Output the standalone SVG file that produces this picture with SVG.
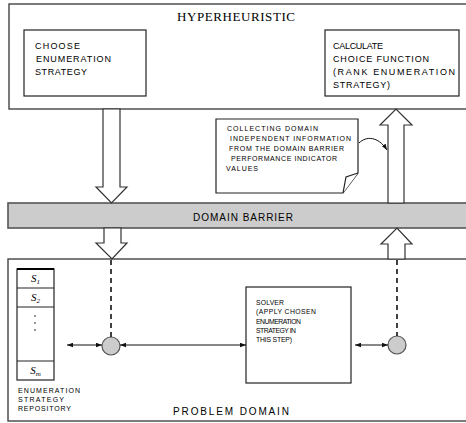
<svg xmlns="http://www.w3.org/2000/svg" width="466" height="423" viewBox="0 0 466 423">
  <style>
    .frame { fill: #ffffff; stroke: #444444; stroke-width: 1.4; }
    .box { fill: #ffffff; stroke: #222222; stroke-width: 1.2; }
    .barrier { fill: #cccccc; stroke: #555555; stroke-width: 1.6; }
    .block { fill: #ffffff; stroke: #333333; stroke-width: 1.2; stroke-linejoin: miter; }
    .dash { fill: none; stroke: #111111; stroke-width: 1.6; stroke-dasharray: 5 4; }
    .link { fill: none; stroke: #111111; stroke-width: 1; marker-start: url(#tip); marker-end: url(#tip); }
    .hub { fill: #cccccc; stroke: #555555; stroke-width: 1.2; }
    .curl { fill: none; stroke: #111111; stroke-width: 1; marker-end: url(#tip); }
    text { font-family: "Liberation Sans", Arial, sans-serif; fill: #000000; }
    .title { font-family: "Liberation Serif", "Times New Roman", serif; font-size: 13px; }
    .lbl { font-size: 9px; }
    .small { font-size: 7px; }
    .tiny { font-size: 6.8px; }
    .big { font-size: 10px; }
    .sym { font-family: "Liberation Serif", "Times New Roman", serif; font-style: italic; font-size: 11px; text-anchor: middle; }
  </style>
  <defs>
    <marker id="tip" viewBox="0 0 8 6" refX="8" refY="3" markerWidth="6" markerHeight="5" orient="auto-start-reverse" markerUnits="userSpaceOnUse">
      <path d="M0,0 L8,3 L0,6 Z" fill="#111111"/>
    </marker>
  </defs>

  <!-- hyperheuristic layer -->
  <g id="hyperheuristic">
    <rect class="frame" x="9" y="4" width="470" height="105"/>
    <text class="title" x="177" y="21" textLength="118">HYPERHEURISTIC</text>
  </g>
  <g id="choose">
    <rect class="box" x="24" y="30" width="122" height="66"/>
    <text class="lbl" x="35" y="49" textLength="45">CHOOSE</text>
    <text class="lbl" x="36" y="62" textLength="75">ENUMERATION</text>
    <text class="lbl" x="35" y="75" textLength="52">STRATEGY</text>
  </g>
  <g id="calculate">
    <rect class="box" x="325" y="30" width="134" height="66"/>
    <text class="lbl" x="333" y="49" textLength="50">CALCULATE</text>
    <text class="lbl" x="333" y="62" textLength="96">CHOICE FUNCTION</text>
    <text class="lbl" x="333" y="75" textLength="122">(RANK ENUMERATION</text>
    <text class="lbl" x="333" y="88" textLength="57">STRATEGY)</text>
  </g>

  <!-- domain barrier -->
  <g id="barrier">
    <rect class="barrier" x="8" y="203" width="472" height="25"/>
    <text class="big" x="193" y="221" textLength="100">DOMAIN BARRIER</text>
  </g>

  <!-- problem domain layer -->
  <g id="problem-domain">
    <rect class="frame" x="8" y="259" width="472" height="162"/>
    <text class="big" x="173" y="415" textLength="116">PROBLEM DOMAIN</text>
  </g>

  <g id="repository">
    <rect class="box" x="17" y="269" width="37" height="111"/>
    <line x1="17" y1="269" x2="54" y2="269" stroke="#000000" stroke-width="2"/>
    <line x1="17" y1="288" x2="54" y2="288" stroke="#222222" stroke-width="1.2"/>
    <line x1="17" y1="307" x2="54" y2="307" stroke="#222222" stroke-width="1.2"/>
    <line x1="17" y1="361" x2="54" y2="361" stroke="#222222" stroke-width="1.2"/>
    <text class="sym" x="35.5" y="282">S<tspan font-size="7" dy="1.5">1</tspan></text>
    <text class="sym" x="35.5" y="301">S<tspan font-size="7" dy="1.5">2</tspan></text>
    <circle cx="35" cy="316" r="0.8" fill="#111111"/>
    <circle cx="35" cy="323" r="0.8" fill="#111111"/>
    <circle cx="35" cy="330" r="0.8" fill="#111111"/>
    <text class="sym" x="35.5" y="374">S<tspan font-size="7" dy="1.5">m</tspan></text>
    <text class="small" x="18" y="393" textLength="62">ENUMERATION</text>
    <text class="small" x="18" y="402" textLength="46">STRATEGY</text>
    <text class="small" x="18" y="411" textLength="53">REPOSITORY</text>
  </g>

  <g id="solver">
    <rect class="box" x="246" y="287" width="105" height="96"/>
    <text class="tiny" x="256" y="305" textLength="28">SOLVER</text>
    <text class="tiny" x="256" y="314" textLength="60">(APPLY CHOSEN</text>
    <text class="tiny" x="256" y="324" textLength="45">ENUMERATION</text>
    <text class="tiny" x="256" y="333" textLength="40">STRATEGY IN</text>
    <text class="tiny" x="256" y="342" textLength="36">THIS STEP)</text>
  </g>

  <g id="note">
    <path class="box" d="M216,119 H358 V173 L343,193 H216 Z"/>
    <path class="box" d="M343,193 L346,177 L358,173" fill="none"/>
    <text class="small" x="227" y="131" textLength="91">COLLECTING DOMAIN</text>
    <text class="small" x="230" y="141" textLength="121">INDEPENDENT INFORMATION</text>
    <text class="small" x="229" y="151" textLength="115">FROM THE DOMAIN BARRIER</text>
    <text class="small" x="231" y="161" textLength="106">PERFORMANCE INDICATOR</text>
    <text class="small" x="226" y="171" textLength="32">VALUES</text>
  </g>

  <g id="hub-left">
    <circle class="hub" cx="111" cy="346" r="9"/>
  </g>
  <g id="hub-right">
    <circle class="hub" cx="397" cy="345" r="9"/>
  </g>

  <!-- connectors -->
  <g id="connectors">
    <!-- hollow block arrows through the barrier -->
    <path class="block" d="M103,109 H120 V187 H127 L111.5,203 L96,187 H103 Z"/>
    <path class="block" d="M104,228 H121 V243 H127 L112,259 L96,243 H104 Z"/>
    <path class="block" d="M388,203 V125 H380 L396,109 L412,125 H404 V203 Z"/>
    <path class="block" d="M388,259 V244 H381 L397,228 L412,244 H405 V259 Z"/>
    <!-- dashed drops to the hubs -->
    <line class="dash" x1="111" y1="260" x2="111" y2="337"/>
    <line class="dash" x1="397" y1="260" x2="397" y2="336"/>
    <!-- two-way links -->
    <line class="link" x1="67" y1="345" x2="102" y2="345"/>
    <line class="link" x1="120" y1="345" x2="246" y2="345"/>
    <line class="link" x1="355" y1="345" x2="388" y2="345"/>
    <!-- note pointer -->
    <path class="curl" d="M359,143 C366,136 378,136 387,150"/>
  </g>
</svg>
